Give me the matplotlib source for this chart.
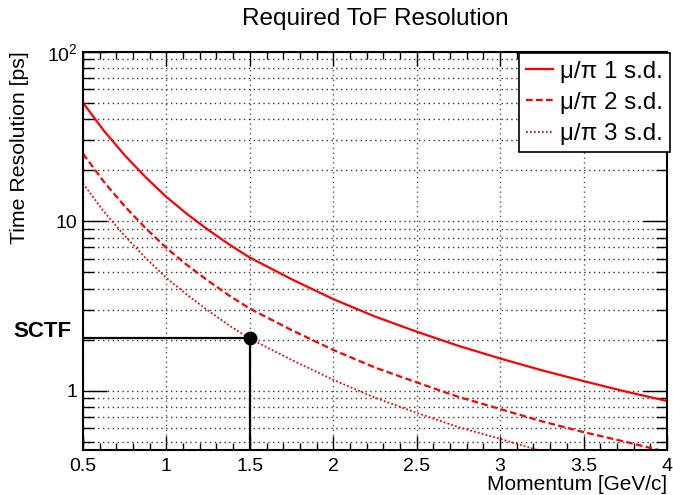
import numpy as np
import matplotlib
matplotlib.use("Agg")
import matplotlib.pyplot as plt
from matplotlib.ticker import FixedLocator, FixedFormatter, MultipleLocator, NullFormatter

plt.rcParams['font.family'] = ['Liberation Sans', 'DejaVu Sans']
plt.rcParams['mathtext.fontset'] = 'custom'
plt.rcParams['mathtext.rm'] = 'Liberation Sans'

# momentum [GeV/c] and required time resolution [ps]
momentum = [0.5, 0.625, 0.75, 0.875, 1.0, 1.125, 1.25, 1.375, 1.5, 1.75, 2.0, 2.25, 2.5, 2.75, 3.0, 3.25, 3.5, 3.75, 4.0]
sd1 = [50.0, 34.2, 24.5, 18.2, 13.9, 11.0, 8.9, 7.3, 6.1, 4.55, 3.47, 2.74, 2.23, 1.84, 1.55, 1.32, 1.14, 0.99, 0.87]
sd2 = [25.0, 17.1, 12.25, 9.1, 6.95, 5.5, 4.45, 3.65, 3.05, 2.28, 1.74, 1.37, 1.12, 0.92, 0.78, 0.66, 0.57, 0.50, 0.435]
sd3 = [16.7, 11.4, 8.2, 6.07, 4.63, 3.67, 2.97, 2.43, 2.03, 1.52, 1.16, 0.91, 0.74, 0.61, 0.52, 0.44, 0.38, 0.33, 0.29]
labels = ["μ/π 1 s.d.", "μ/π 2 s.d.", "μ/π 3 s.d."]

sctf_p = 1.5
sctf_res = 2.05

fig = plt.figure(figsize=(6.73, 4.95), dpi=100)
ax = fig.add_axes([0.1233, 0.0909, 0.8677, 0.8047])

ax.plot(momentum, sd1, color='red', lw=1.6, ls='-', label=labels[0])
ax.plot(momentum, sd2, color='red', lw=1.6, ls=(0, (3, 1.5)), label=labels[1])
ax.plot(momentum, sd3, color='red', lw=1.3, ls=(0, (1, 1.2)), label=labels[2])

ax.set_yscale('log')
ax.set_xlim(0.5, 4.0)
ax.set_ylim(0.447, 100)

# SCTF marker with guide lines
ax.plot([0.5, sctf_p], [sctf_res, sctf_res], color='black', lw=1.6)
ax.plot([sctf_p, sctf_p], [0.447, sctf_res], color='black', lw=1.6)
ax.plot([sctf_p], [sctf_res], 'o', color='black', ms=9, zorder=5)
ax.text(-0.07, sctf_res * 1.01, "SCTF", transform=ax.get_yaxis_transform(), ha='center', va='baseline',
        fontsize=16, fontweight='bold')

# ticks
ax.xaxis.set_major_locator(FixedLocator([0.5, 1, 1.5, 2, 2.5, 3, 3.5, 4]))
ax.xaxis.set_major_formatter(FixedFormatter(['0.5', '1', '1.5', '2', '2.5', '3', '3.5', '4']))
ax.xaxis.set_minor_locator(MultipleLocator(0.1))
ax.yaxis.set_major_locator(FixedLocator([1, 10, 100]))
ax.yaxis.set_major_formatter(FixedFormatter(['1', '10', r'$\mathregular{10^2}$']))
minor_y = [m * 10.0 ** e for e in (-1, 0, 1) for m in range(2, 10)]
ax.yaxis.set_minor_locator(FixedLocator(minor_y))
ax.yaxis.set_minor_formatter(NullFormatter())

ax.tick_params(which='both', direction='in', top=True, right=True, labelsize=14, colors='black')
ax.tick_params(axis='x', which='major', length=10, width=1, pad=6)
ax.tick_params(axis='x', which='minor', length=5, width=1)
ax.tick_params(axis='y', which='major', length=17, width=1, pad=4)
ax.tick_params(axis='y', which='minor', length=8, width=1)

ax.grid(True, which='major', axis='x', color='#555555', ls=(0, (1, 2.5)), lw=1)
ax.grid(True, which='both', axis='y', color='#333333', ls=(0, (1, 2.5)), lw=1)

for s in ax.spines.values():
    s.set_linewidth(1.5)

ax.set_title("Required ToF Resolution", fontsize=17.5, pad=19)
ax.set_xlabel("Momentum [GeV/c]", fontsize=15, loc='right', labelpad=0)
ax.set_ylabel("Time Resolution [ps]", fontsize=15.3, loc='top', labelpad=13)

leg = ax.legend(loc='upper right', bbox_to_anchor=(0.996, 0.892), bbox_transform=fig.transFigure,
                fontsize=17.4, frameon=True, fancybox=False, edgecolor='black', framealpha=1,
                handlelength=1.1, handletextpad=0.3, borderpad=0.3, labelspacing=0.38,
                borderaxespad=0)
leg.get_frame().set_linewidth(1.2)

fig.savefig("out.png", dpi=100)
